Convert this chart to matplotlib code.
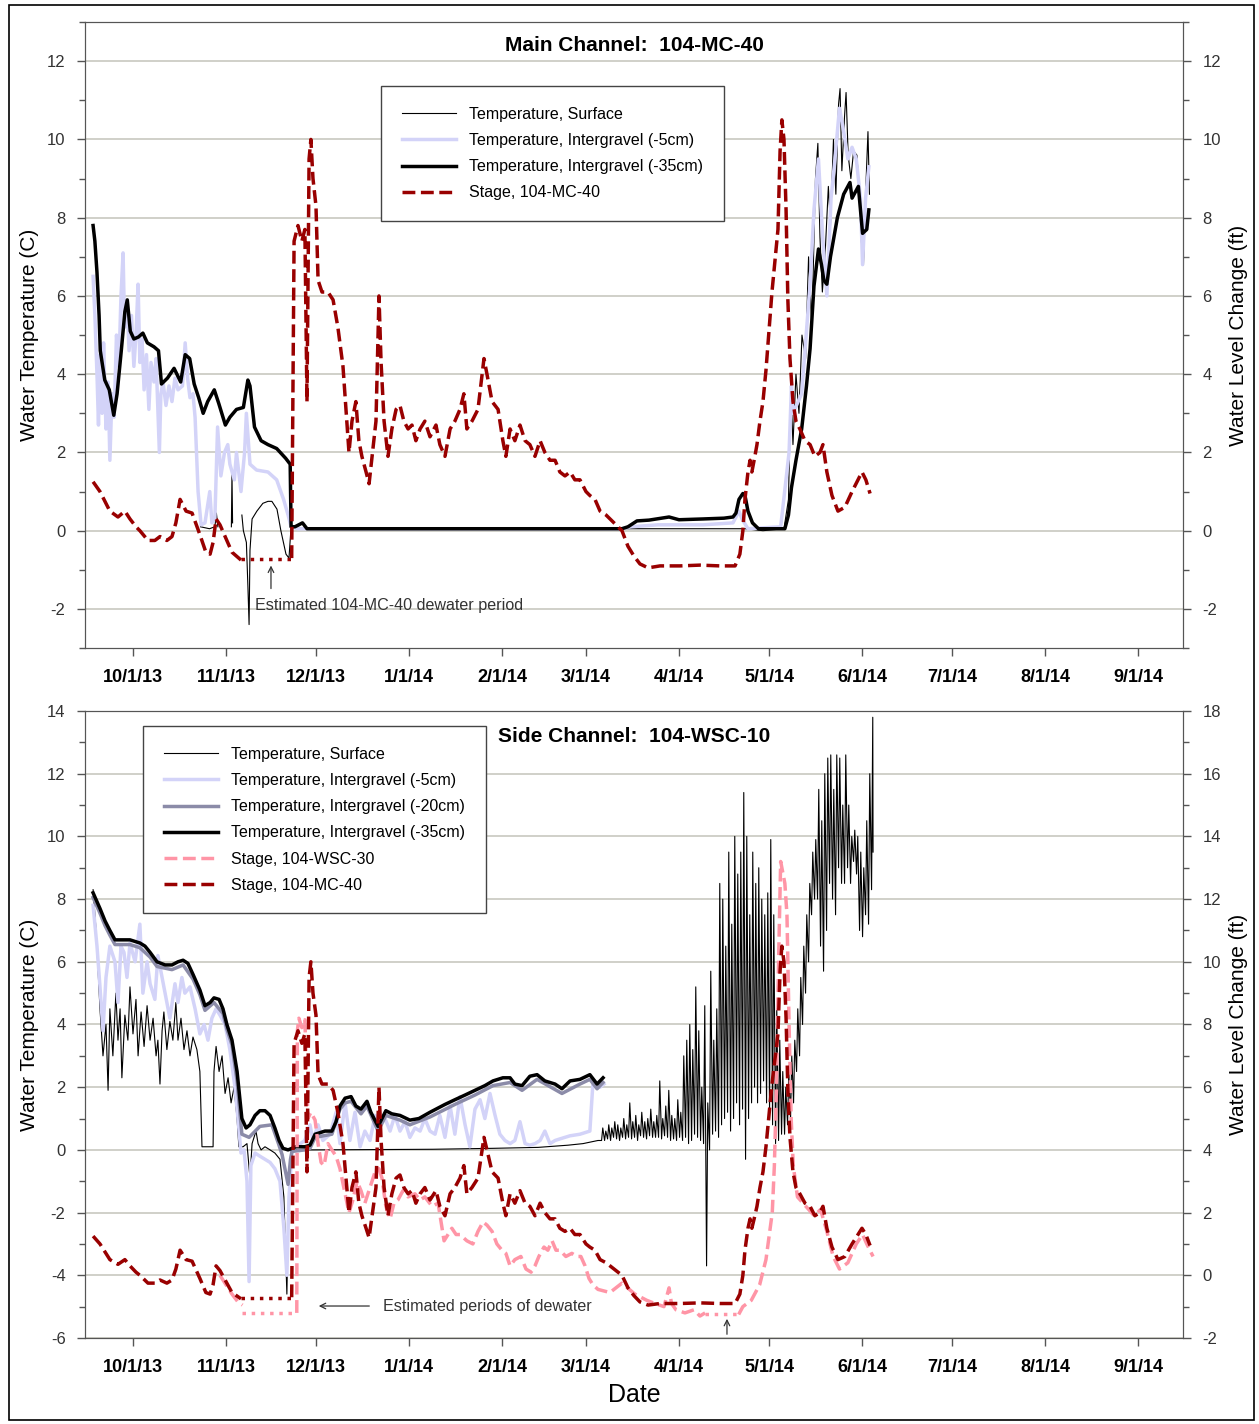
import numpy as np
import pandas as pd
import matplotlib
matplotlib.use("Agg")
import matplotlib.pyplot as plt
import matplotlib.dates as mdates
from matplotlib.ticker import MultipleLocator, FuncFormatter
from matplotlib.patches import Rectangle

plt.rcParams["axes.unicode_minus"] = False

# all days are counted from 10/1/13
BASE = pd.Timestamp("2013-10-01")
nan = np.nan

# ---------------- Main channel 104-MC-40 ----------------
# stage, 104-MC-40 (ft) -- same logger is used in both panels
mc40_day = [-13.3, -11.0, -7.7, -5.0, -2.7, -1.0, 1.0, 2.3, 5.0, 7.3, 9.0, 11.3, 13.0, 14.3, 15.7,
            17.7, 19.7, 22.3, 24.3, 25.7, 26.7, 27.7, 29.0, 31.0, 33.0, 36.0, 44.0,
            52.9, 53.7, 55.0, 56.3, 57.3, 58.0, 58.7, 59.3, 60.0, 61.0, 61.7, 63.0, 65.0, 66.7, 68.3,
            70.0, 71.0, 72.0, 73.0, 74.3, 75.3, 76.3, 77.7, 78.7, 79.7, 81.0, 82.0, 82.7, 83.7, 85.0,
            86.3, 87.7, 89.0, 90.3, 91.7, 93.0, 94.3, 95.7, 97.3, 99.0, 101.0, 102.3, 104.0, 105.7,
            107.3, 109.0, 110.3, 111.3, 113.0, 115.0, 117.0, 118.0, 119.7, 121.7, 123.3, 124.3, 125.7,
            127.3, 129.0, 130.7, 132.3, 134.0, 135.7, 137.3, 139.0, 140.7, 142.3, 144.0, 145.7, 147.3,
            149.0, 151.0, 152.3, 154.0, 155.7, 157.7, 159.7, 161.7, 163.0, 165.0, 167.0, 169.0, 171.7,
            175.7, 182.3, 189.0, 195.7, 200.7, 202.3, 203.3, 204.0, 205.0, 205.7, 206.3, 207.3, 208.0,
            209.0, 210.0, 211.0, 212.0, 213.0, 214.0, 215.0, 215.7, 216.3, 217.0, 217.7, 218.3, 219.0,
            220.0, 221.0, 222.3, 224.0, 225.7, 227.3, 229.0, 230.0, 231.3, 233.0, 235.0, 237.3, 239.7,
            241.7, 243.0, 244.3, 245.7]
mc40_ft = [1.25, 1.0, 0.5, 0.35, 0.5, 0.3, 0.1, 0.0, -0.25, -0.25, -0.15, -0.25, -0.15, 0.2, 0.8,
           0.5, 0.45, -0.1, -0.55, -0.6, -0.3, 0.3, 0.15, -0.2, -0.55, -0.75, nan,
           -0.7, 7.4, 7.8, 7.4, 7.7, 3.3, 9.5, 10.0, 9.0, 8.3, 6.4, 6.1, 6.1, 5.9, 5.2,
           4.2, 3.1, 2.0, 2.8, 3.3, 2.3, 1.9, 1.5, 1.2, 1.9, 2.8, 6.0, 4.3, 2.8, 1.9,
           2.6, 3.1, 3.2, 2.8, 2.6, 2.7, 2.3, 2.6, 2.8, 2.4, 2.7, 2.2, 1.9, 2.6,
           2.8, 3.1, 3.5, 2.6, 2.8, 3.1, 4.4, 4.0, 3.3, 3.1, 2.3, 1.9, 2.6,
           2.3, 2.7, 2.3, 2.2, 1.9, 2.3, 2.0, 1.8, 1.8, 1.5, 1.4, 1.5, 1.3,
           1.3, 1.0, 0.9, 0.8, 0.5, 0.4, 0.25, 0.1, 0.0, -0.4, -0.65, -0.85, -0.95,
           -0.9, -0.9, -0.88, -0.9, -0.9, -0.6, 0.0, 0.8, 1.5, 1.8, 1.5, 1.9, 2.2,
           2.8, 3.3, 4.1, 5.1, 6.1, 6.9, 7.7, 9.7, 10.5, 10.0, 8.2, 5.9, 4.4,
           3.3, 2.8, 2.6, 2.3, 2.2, 1.9, 2.0, 2.2, 1.5, 0.9, 0.5, 0.6, 1.0,
           1.3, 1.5, 1.3, 0.95]
mc40_dewater_day = [36.0, 52.9]
mc40_dewater_ft = [-0.72, -0.72]

# temperature, surface (C)
surf_top_day = [22.5, 25.5, 27.3, 27.8, 28.3, 28.8, 32.8, 33.0, 33.2, 33.5, 36.3, 36.8, 37.8, 38.3,
                38.7, 39.0, 39.7, 41.3, 43.3, 45.0, 46.3, 48.0, 49.3, 51.0, 52.0, 52.7, 60.0, 204.0,
                210.0, 217.0, 218.5, 219.3, 220.0, 221.0, 222.0, 223.0, 224.2, 225.2, 226.3, 227.5,
                228.3, 229.0, 229.8, 230.8, 231.8, 232.5, 233.5, 234.3, 235.2, 235.7, 236.3, 237.2,
                237.7, 238.4, 239.3, 240.2, 241.3, 242.0, 242.8, 243.5, 244.3, 245.0, 245.5]
surf_top_c = [0.1, 0.05, 0.1, 0.45, 0.1, nan, 0.1, 1.45, 0.2, nan, 0.4, 0.0, -0.3, -1.4,
              -2.4, -0.5, 0.3, 0.5, 0.7, 0.75, 0.75, 0.55, 0.0, -0.6, -0.7, 0.1, 0.05, 0.05,
              0.0, 0.05, 0.8, 3.6, 2.2, 4.0, 3.0, 5.0, 4.4, 7.0, 5.2, 9.0,
              9.9, 7.5, 6.1, 7.2, 8.8, 7.8, 10.0, 8.6, 10.9, 11.3, 9.2, 10.6,
              11.2, 9.6, 9.0, 9.7, 9.6, 8.8, 7.4, 6.8, 8.8, 10.2, 8.6]

# temperature, intergravel -5cm (C)
t5_top_day = [-13.3, -12.7, -12.0, -11.5, -11.0, -10.3, -9.8, -9.0, -8.3, -7.7, -7.0, -6.3, -5.5,
              -4.7, -4.0, -3.3, -2.8, -2.0, -1.3, -0.5, 0.3, 1.0, 1.7, 2.3, 3.0, 3.7, 4.5, 5.3,
              6.0, 7.0, 7.7, 8.8, 9.3, 10.0, 11.0, 12.0, 13.0, 14.0, 15.0, 16.5, 17.4, 18.2, 19.0,
              20.0, 20.7, 21.7, 22.7, 24.0, 25.6, 26.3, 27.3, 28.2, 29.3, 30.5, 31.6, 32.3, 33.8,
              34.5, 36.0, 37.2, 37.8, 39.0, 41.2, 45.0, 47.9, 50.2, 51.7, 52.7, 55.0, 163.0, 166.0,
              175.0, 190.0, 200.0, 202.0, 203.0, 205.0, 215.9, 218.7, 219.5, 220.0, 222.9, 225.7,
              227.0, 228.5, 229.9, 231.3, 232.7, 234.0, 235.5, 236.9, 238.3, 239.7, 241.1, 242.5,
              243.2, 244.2, 245.3]
t5_top_c = [6.5, 5.5, 4.0, 2.7, 4.5, 3.0, 4.8, 2.6, 3.8, 1.8, 3.5, 2.9, 5.0,
            4.2, 6.0, 7.1, 5.2, 5.8, 4.6, 5.5, 4.2, 5.0, 6.3, 4.3, 4.9, 3.6, 4.5, 3.1,
            4.3, 3.8, 4.4, 2.0, 3.5, 3.8, 3.2, 3.7, 3.3, 3.9, 3.6, 3.7, 4.8, 3.9, 3.4,
            3.5, 2.9, 1.0, 0.15, 0.2, 1.0, 0.2, 0.3, 2.65, 1.4, 2.0, 2.2, 1.7, 1.3,
            2.0, 1.0, 2.0, 3.0, 1.7, 1.55, 1.5, 1.3, 0.8, 0.4, 0.1, 0.05, 0.05, 0.1,
            0.15, 0.15, 0.2, 0.5, 0.3, 0.05, 0.1, 2.0, 3.7, 3.0, 3.5, 6.3,
            8.2, 9.5, 7.5, 6.0, 8.5, 9.5, 10.8, 10.2, 9.5, 9.8, 9.5, 8.5,
            6.8, 8.5, 9.3]

# temperature, intergravel -35cm (C)
t35_top_day = [-13.3, -12.7, -12.0, -11.3, -10.9, -9.4, -7.9, -6.4, -5.3, -3.9, -2.7, -1.9, -0.9,
               0.3, 1.8, 3.3, 4.8, 7.0, 8.5, 9.5, 11.5, 13.7, 15.9, 17.4, 18.9, 20.4, 21.9, 23.4,
               24.9, 27.1, 28.6, 30.8, 32.3, 34.5, 36.8, 38.3, 39.0, 40.5, 42.7, 45.0, 47.9, 50.9,
               52.4, 52.7, 54.0, 56.5, 58.0, 163.0, 165.0, 168.0, 172.0, 178.7, 182.0, 190.0, 197.0,
               200.0, 201.0, 202.0, 203.3, 204.0, 205.0, 206.5, 208.5, 217.3, 218.5, 219.5, 221.0,
               222.9, 224.5, 225.7, 227.0, 228.5, 229.5, 230.3, 231.3, 232.5, 234.8, 236.9, 239.0,
               239.7, 241.8, 243.2, 244.6, 245.3]
t35_top_c = [7.8, 7.4, 6.6, 5.5, 4.6, 3.85, 3.6, 2.95, 3.5, 4.6, 5.6, 5.9, 5.1,
             4.9, 4.95, 5.05, 4.8, 4.7, 4.6, 3.75, 3.9, 4.15, 3.8, 4.5, 4.4, 3.75, 3.4, 3.0,
             3.3, 3.6, 3.25, 2.7, 2.9, 3.1, 3.15, 3.85, 3.7, 2.65, 2.3, 2.2, 2.1, 1.85,
             1.7, 0.1, 0.1, 0.2, 0.05, 0.05, 0.1, 0.25, 0.27, 0.35, 0.28, 0.3, 0.32,
             0.35, 0.45, 0.8, 0.95, 0.9, 0.5, 0.2, 0.05, 0.05, 0.4, 1.1, 1.8,
             2.6, 3.7, 4.65, 6.25, 7.2, 6.8, 6.4, 6.3, 7.0, 8.0, 8.6, 8.9,
             8.5, 8.8, 7.6, 7.7, 8.2]

# ---------------- Side channel 104-WSC-10 ----------------
surf_bot_day = [-13.3, -12.3, -11.0, -10.0, -9.0, -8.3, -7.7, -6.7, -5.7, -5.0, -4.3, -3.7, -2.7,
                -1.7, -1.0, 0.0, 1.0, 1.7, 2.7, 3.7, 4.7, 5.7, 6.7, 7.7, 8.3, 9.0, 9.7, 10.3, 11.3,
                12.3, 13.3, 14.3, 15.0, 16.0, 17.0, 18.0, 19.0, 20.0, 21.3, 22.3, 23.0, 26.7, 27.0,
                27.7, 28.7, 29.7, 30.7, 31.7, 32.7, 33.7, 34.7, 35.3, 36.7, 38.0, 39.0, 39.7, 41.0,
                41.7, 42.7, 44.0, 45.7, 47.3, 49.0, 50.3, 51.3, 52.0, 52.7, 60.0, 100.0, 120.0,
                135.0, 145.0, 150.0, 155.0]
surf_bot_c = [8.3, 7.0, 4.5, 3.0, 4.0, 1.9, 4.5, 3.0, 5.0, 3.5, 4.5, 2.3, 4.3,
              3.5, 5.2, 3.7, 4.8, 3.0, 4.4, 3.3, 4.6, 3.5, 4.2, 3.0, 3.5, 2.1, 3.8, 4.4, 3.2,
              4.1, 3.5, 4.7, 3.5, 4.2, 3.2, 3.8, 3.0, 3.6, 3.2, 2.5, 0.1, 0.1, 2.5,
              3.3, 2.5, 3.0, 1.8, 2.3, 1.5, 2.0, 1.0, 0.1, 0.1, 0.2, -0.9, 0.2, 0.6,
              0.2, 0.0, 0.1, 0.0, -0.1, -0.3, -1.5, -4.6, -1.0, 0.0, 0.0, 0.02, 0.05,
              0.08, 0.15, 0.2, 0.3]
# spring surface record: daily low / high, 3/6/14 (day 156) to 6/2/14 (day 246)
spring_first_day = 156
surf_spring_lo = [0.3, 0.3, 0.35, 0.3, 0.4, 0.35, 0.3, 0.4, 0.35,
                  0.4, 0.35, 0.4, 0.3, 0.45, 0.4, 0.35, 0.45, 0.4, 0.4,
                  0.4, 0.35, 0.45, 0.4, 0.3, 0.35, 0.3, 0.4,
                  0.3, 0.4, 0.2, 0.3, 0.5, 0.4, 0.3, 0.2,
                  -3.7, 0.0, 0.5, 0.6, 0.4,
                  0.8, 1.0, 1.2, 0.6, 1.0, 1.5, 0.8, 1.3, -0.3, 1.0,
                  1.5, 2.0, 1.5, 1.8, 2.2, 1.5, 1.2, 0.8,
                  0.2, 0.3, 0.5, 0.5, 0.8, 1.0,
                  1.5, 2.5, 3.0, 4.0, 5.0, 6.0, 7.5, 8.0,
                  8.0, 6.5, 5.7, 7.0, 8.5, 8.0, 7.5, 9.0, 8.5,
                  8.5, 9.0, 8.5, 9.2, 8.8, 7.0, 6.8,
                  7.5, 7.2, 8.3]
surf_spring_hi = [0.7, 0.6, 0.8, 0.7, 0.9, 0.8, 0.7, 1.0, 0.8,
                  1.5, 0.9, 1.1, 0.8, 1.2, 0.9, 1.0, 1.3, 0.9, 1.1,
                  2.2, 1.0, 1.4, 1.9, 1.1, 1.0, 1.6, 1.2,
                  3.0, 3.5, 4.0, 3.2, 5.2, 3.8, 2.0, 4.6,
                  1.5, 5.7, 3.5, 4.5, 8.5,
                  8.0, 6.5, 9.5, 7.2, 10.0, 8.8, 9.5, 11.4, 10.0, 7.5,
                  9.5, 8.5, 9.0, 8.0, 7.5, 8.2, 9.9, 7.5,
                  4.5, 3.5, 2.5, 2.0, 2.5, 3.0,
                  3.5, 4.5, 5.5, 6.5, 7.5, 8.5, 9.5, 9.9,
                  11.5, 10.5, 12.0, 12.5, 12.6, 11.5, 12.6, 12.5, 11.0,
                  12.6, 11.0, 10.0, 10.2, 10.0, 9.5, 9.0,
                  10.5, 12.0, 13.8]

t5_bot_day = [-13.3, -12.0, -11.0, -10.0, -9.0, -7.7, -6.0, -5.0, -4.0, -3.0, -2.0, -1.0, 0.7,
              2.3, 3.3, 4.7, 5.7, 7.3, 8.3, 9.7, 10.7, 12.3, 14.0, 15.0, 16.3, 17.3, 19.0, 20.7,
              22.3, 23.7, 25.0, 26.3, 27.7, 29.0, 30.7, 32.3, 34.0, 35.0, 36.0, 37.0, 38.0, 38.7,
              39.3, 40.7, 42.3, 44.0, 45.7, 47.3, 49.0, 50.3, 51.3, 52.0, 53.0, 54.3, 57.3, 59.0,
              60.0, 61.7, 63.3, 65.7, 67.7, 69.0, 70.7, 72.3, 74.0, 75.7, 77.3, 79.0, 80.7, 82.3,
              84.0, 85.7, 87.3, 89.0, 90.7, 92.3, 94.0, 95.7, 97.3, 99.0, 100.7, 102.3, 104.0,
              105.7, 107.3, 109.0, 110.7, 112.3, 114.0, 115.7, 117.3, 119.0, 120.7, 122.3, 124.0,
              125.7, 127.3, 129.0, 130.7, 132.3, 134.0, 135.7, 137.3, 139.0, 140.7, 142.3, 145.7,
              149.0, 152.3, 153.3, 155.7, 157.0]
t5_bot_c = [7.8, 6.5, 5.2, 3.8, 5.5, 6.5, 6.0, 4.7, 6.5, 6.3, 5.5, 6.6, 6.0,
            7.2, 5.0, 6.0, 5.3, 4.8, 6.2, 5.5, 5.0, 4.2, 5.3, 4.7, 5.5, 5.0, 5.2, 4.5,
            3.7, 4.0, 3.5, 4.2, 4.5, 4.3, 4.0, 3.2, 2.0, 1.0, -0.1, 0.0, -1.0, -4.2,
            -0.5, -0.1, -0.2, -0.3, -0.4, -0.6, -1.0, -2.5, -4.0, -1.5, 0.0, 0.1, 0.3, 0.8,
            0.3, 0.8, 0.3, 0.5, 1.2, 0.2, 1.5, 0.3, 1.2, 0.1, 0.6, 0.3, 1.1, 0.8,
            1.0, 0.6, 1.1, 0.6, 0.9, 0.4, 0.7, 0.6, 1.0, 0.6, 0.5, 1.1, 0.4,
            1.4, 0.5, 1.7, 0.8, 0.1, 1.3, 1.6, 1.0, 1.8, 1.1, 0.5, 0.3,
            0.2, 0.3, 0.9, 0.2, 0.15, 0.2, 0.3, 0.6, 0.2, 0.3, 0.35, 0.45,
            0.5, 0.6, 2.1, 2.0, 2.1]

t20_bot_day = [-13.3, -11.0, -9.3, -7.7, -6.0, -1.0, 2.3, 5.7, 8.0, 13.0, 16.7, 20.0, 22.3, 24.0,
               27.0, 30.0, 31.3, 33.0, 34.7, 36.3, 38.7, 42.3, 46.3, 48.5, 49.7, 51.7, 52.5, 53.0,
               57.3, 59.0, 60.7, 66.3, 69.0, 70.7, 72.7, 76.0, 78.0, 81.7, 84.3, 89.0, 92.3, 99.0,
               107.3, 114.0, 120.0, 125.7, 129.7, 134.7, 143.0, 149.0, 152.3, 154.7, 156.7]
t20_bot_c = [8.05, 7.55, 7.15, 6.85, 6.55, 6.55, 6.45, 6.15, 5.85, 5.75, 5.9, 5.45, 4.95, 4.45,
             4.7, 4.35, 3.85, 3.35, 2.2, 0.5, 0.4, 0.75, 0.8, 0.2, -0.15, -1.1, -0.3, -0.05,
             0.0, 0.05, 0.4, 0.5, 1.3, 1.5, 1.55, 1.15, 1.4, 0.6, 1.1, 0.95, 0.8, 1.05,
             1.45, 1.75, 2.05, 2.15, 1.9, 2.25, 1.8, 2.1, 2.25, 1.95, 2.15]

t35_bot_day = [-13.3, -11.0, -9.3, -7.7, -6.0, -4.3, -1.0, 2.3, 4.0, 5.7, 8.0, 10.7, 13.0, 15.0,
               16.7, 18.3, 20.0, 22.3, 24.0, 25.7, 27.0, 28.7, 30.0, 31.3, 33.0, 34.7, 36.3, 37.7,
               39.0, 40.7, 42.3, 44.0, 45.7, 47.3, 48.7, 50.0, 51.7, 53.0, 54.3, 57.3, 59.0, 60.7,
               64.0, 66.3, 67.7, 69.0, 70.7, 72.7, 74.3, 76.0, 78.0, 79.3, 81.7, 84.3, 86.3, 89.0,
               92.3, 95.3, 99.0, 104.0, 107.3, 110.7, 114.0, 117.3, 120.0, 123.3, 125.7, 127.3,
               129.7, 132.3, 134.7, 137.3, 140.7, 143.0, 145.7, 149.0, 152.3, 154.7, 156.7]
t35_bot_c = [8.2, 7.7, 7.3, 7.0, 6.7, 6.7, 6.7, 6.6, 6.5, 6.3, 6.0, 5.9, 5.9, 6.0,
             6.05, 5.95, 5.6, 5.1, 4.6, 4.7, 4.85, 4.8, 4.5, 4.0, 3.5, 2.5, 1.0, 0.7,
             0.8, 1.1, 1.25, 1.25, 1.1, 0.7, 0.3, 0.05, 0.0, 0.05, 0.1, 0.1, 0.15, 0.5,
             0.6, 0.6, 0.9, 1.4, 1.65, 1.7, 1.4, 1.3, 1.55, 1.2, 0.75, 1.25, 1.15, 1.1,
             0.95, 1.0, 1.2, 1.45, 1.6, 1.75, 1.9, 2.05, 2.2, 2.3, 2.3, 2.1,
             2.05, 2.35, 2.4, 2.2, 2.1, 1.95, 2.2, 2.25, 2.4, 2.1, 2.3]

# stage, 104-WSC-30 (ft)
wsc30_day = [29.0, 31.0, 33.0, 35.0, 36.5, 45.0,
             54.6, 54.8, 55.3, 56.3, 57.3, 58.3, 59.3, 60.7, 61.7, 62.7, 63.7, 65.0, 66.3, 67.7,
             69.0, 70.7, 72.0, 73.3, 74.7, 76.0, 77.3, 79.0, 80.7, 82.0, 83.0, 84.3, 85.7, 87.0,
             88.3, 90.0, 91.7, 94.0, 95.7, 97.3, 99.7, 101.7, 103.7, 105.0, 106.3, 107.7, 109.0,
             111.3, 113.3, 115.0, 116.7, 118.0, 119.7, 121.3, 123.0, 124.3, 125.7, 127.3, 129.3,
             131.0, 132.7, 134.0, 135.3, 137.0, 138.3, 139.7, 141.0, 142.3, 144.3, 146.3, 148.0,
             149.3, 150.7, 152.0, 153.3, 155.0, 159.0, 163.0, 167.3, 171.3, 174.0, 177.0, 178.7,
             179.5, 181.0, 184.0, 187.0, 189.0, 190.7, 196.0,
             201.9, 203.3, 206.1, 208.9, 211.0, 213.1, 213.8, 214.5, 215.2, 215.9, 217.3, 218.0,
             218.7, 219.4, 220.1, 221.5, 224.3, 227.1, 229.2, 231.3, 233.4, 235.5, 238.3, 241.1,
             243.2, 244.6, 246.7]
wsc30_ft = [0.0, -0.3, -0.6, -0.85, -0.95, nan,
            -1.2, 7.8, 8.2, 7.9, 8.15, 5.0, 5.2, 4.95, 4.2, 3.6, 3.5, 4.2, 4.0, 3.8,
            3.4, 2.6, 2.0, 2.4, 3.0, 2.7, 2.3, 2.8, 3.3, 3.4, 3.1, 2.2, 1.8, 2.3,
            2.4, 2.7, 2.5, 2.6, 2.4, 2.5, 2.2, 2.3, 1.1, 1.3, 1.5, 1.3, 1.3,
            1.1, 1.0, 1.4, 1.7, 1.6, 1.4, 1.0, 0.8, 0.7, 0.3, 0.5, 0.6,
            0.2, 0.1, 0.3, 0.6, 0.9, 0.8, 1.1, 0.8, 0.8, 0.6, 0.7, 0.6,
            0.6, 0.3, -0.1, -0.3, -0.45, -0.55, -0.25, -0.6, -0.8, -0.9, -1.0, -0.4,
            -0.9, -1.1, -1.2, -1.1, -1.3, -1.2, nan,
            -1.25, -1.0, -0.8, -0.3, 0.5, 2.0, 3.5, 6.0, 10.0, 13.2, 12.5, 11.5,
            8.0, 5.0, 3.5, 2.5, 2.2, 1.9, 2.1, 1.4, 0.6, 0.2, 0.4, 1.0,
            1.3, 1.0, 0.6]
wsc30_dewater = [([36.5, 54.6], [-1.2, -1.2]), ([190.7, 201.9], [-1.25, -1.25])]

# ---------------- styling ----------------
FONT = "Liberation Sans"
C_5, C_20, C_MC, C_WSC = "#d3d3f8", "#8b8ba8", "#990000", "#ff95a6"
GRID = "#c8c8c0"
SPINE = "#555555"
TXT = "#333333"
plt.rcParams["font.family"] = [FONT, "DejaVu Sans"]


def dates(days):
    return BASE + pd.to_timedelta(np.asarray(days, dtype=float), unit="D")


def fmt_date(x, pos):
    d = mdates.num2date(x)
    return f"{d.month}/{d.day}/{d.year % 100}"


def style(ax, axr, ylim_l, ylim_r):
    ax.set_xlim(dates([-16])[0], dates([350])[0])
    ax.set_ylim(*ylim_l)
    axr.set_ylim(*ylim_r)
    for a in (ax, axr):
        a.yaxis.set_major_locator(MultipleLocator(2))
        a.yaxis.set_minor_locator(MultipleLocator(1))
        a.tick_params(axis="y", which="major", direction="out", length=6, width=1,
                      color=SPINE, pad=8, labelsize=12, labelcolor=TXT)
        a.tick_params(axis="y", which="minor", direction="out", length=4, width=1, color=SPINE)
        for s in a.spines.values():
            s.set_color(SPINE)
    ax.xaxis.set_major_locator(mdates.MonthLocator())
    ax.xaxis.set_major_formatter(FuncFormatter(fmt_date))
    ax.tick_params(axis="x", direction="out", length=6, width=1, color=SPINE, pad=9,
                   labelsize=13)
    for lab in ax.get_xticklabels():
        lab.set_fontweight("bold")
    ax.grid(axis="y", which="major", color=GRID, lw=1.2)
    ax.set_axisbelow(True)
    ax.set_ylabel("Water Temperature (C)", fontsize=15, labelpad=6)
    axr.set_ylabel("Water Level Change (ft)", fontsize=15, labelpad=6)


fig = plt.figure(figsize=(12.59, 14.24), dpi=100)
fig.patches.append(Rectangle((0.0072, 0.003), 0.9889, 0.9935, transform=fig.transFigure,
                             fill=False, edgecolor="black", lw=1.2))

leg_kw = dict(frameon=True, fancybox=False, edgecolor="#444444", framealpha=1,
              prop={"size": 11.5}, handlelength=3.4, handletextpad=0.8,
              labelspacing=0.7, borderpad=1.3, borderaxespad=0)

# ----- top panel -----
ax1 = fig.add_axes([0.0675, 0.5449, 0.8721, 0.4396])
ax1r = ax1.twinx()
h1, = ax1.plot(dates(surf_top_day), surf_top_c, color="black", lw=0.8, zorder=2,
               label="Temperature, Surface")
h2, = ax1.plot(dates(t5_top_day), t5_top_c, color=C_5, lw=2.5, zorder=3,
               label="Temperature, Intergravel (-5cm)")
h3, = ax1.plot(dates(t35_top_day), t35_top_c, color="black", lw=2.5, zorder=4,
               label="Temperature, Intergravel (-35cm)")
h4, = ax1r.plot(dates(mc40_day), mc40_ft, color=C_MC, lw=2.5, ls="--", label="Stage, 104-MC-40")
ax1r.plot(dates(mc40_dewater_day), mc40_dewater_ft, color=C_MC, lw=2.5, ls=":")
style(ax1, ax1r, (-3, 13), (-3, 13))
ax1.text(0.5, 0.962, "Main Channel:  104-MC-40", transform=ax1.transAxes, ha="center",
         va="center", fontsize=15, fontweight="bold")
ax1r.annotate("", xy=(dates([46])[0], -0.82), xytext=(dates([46])[0], -1.55),
              arrowprops=dict(arrowstyle="->", color=TXT, lw=0.9))
ax1r.text(dates([40.7])[0], -1.9, "Estimated 104-MC-40 dewater period", ha="left",
          va="center", fontsize=11.6, color=TXT)
ax1r.legend(handles=[h1, h2, h3, h4], loc="upper left", bbox_to_anchor=(0.2696, 0.8978), **leg_kw)

# ----- bottom panel -----
spring_days = np.arange(spring_first_day, spring_first_day + len(surf_spring_hi))
spring_t = np.column_stack([spring_days + 0.2, spring_days + 0.6]).ravel()
spring_v = np.column_stack([surf_spring_lo, surf_spring_hi]).ravel()
surf_all_day = np.concatenate([surf_bot_day, spring_t, [246.7]])
surf_all_c = np.concatenate([surf_bot_c, spring_v, [9.5]])

ax2 = fig.add_axes([0.0675, 0.0604, 0.8721, 0.4403])
ax2r = ax2.twinx()
g1, = ax2.plot(dates(surf_all_day), surf_all_c, color="black", lw=0.8, zorder=2,
               label="Temperature, Surface")
g2, = ax2.plot(dates(t5_bot_day), t5_bot_c, color=C_5, lw=2.5, zorder=3,
               label="Temperature, Intergravel (-5cm)")
g3, = ax2.plot(dates(t20_bot_day), t20_bot_c, color=C_20, lw=2.5, zorder=4,
               label="Temperature, Intergravel (-20cm)")
g4, = ax2.plot(dates(t35_bot_day), t35_bot_c, color="black", lw=2.5, zorder=5,
               label="Temperature, Intergravel (-35cm)")
g5, = ax2r.plot(dates(wsc30_day), wsc30_ft, color=C_WSC, lw=2.5, ls="--", label="Stage, 104-WSC-30")
for dd, vv in wsc30_dewater:
    ax2r.plot(dates(dd), vv, color=C_WSC, lw=2.5, ls=":")
g6, = ax2r.plot(dates(mc40_day), mc40_ft, color=C_MC, lw=2.5, ls="--", label="Stage, 104-MC-40")
ax2r.plot(dates(mc40_dewater_day), mc40_dewater_ft, color=C_MC, lw=2.5, ls=":")
style(ax2, ax2r, (-6, 14), (-2, 18))
ax2.set_xlabel("Date", fontsize=18, labelpad=5)
ax2.text(0.5, 0.960, "Side Channel:  104-WSC-10", transform=ax2.transAxes, ha="center",
         va="center", fontsize=15, fontweight="bold")
ax2.annotate("", xy=(dates([61])[0], -4.98), xytext=(dates([79.7])[0], -4.98),
             arrowprops=dict(arrowstyle="->", color=TXT, lw=0.9))
ax2.text(dates([83.3])[0], -4.98, "Estimated periods of dewater", ha="left", va="center",
         fontsize=11.6, color=TXT)
ax2.annotate("", xy=(dates([198])[0], -5.3), xytext=(dates([198])[0], -5.97),
             arrowprops=dict(arrowstyle="->", color=TXT, lw=0.9), annotation_clip=False)
ax2r.legend(handles=[g1, g2, g3, g4, g5, g6], loc="upper left", bbox_to_anchor=(0.0528, 0.976),
            **leg_kw)

fig.savefig("out.png", dpi=100)
